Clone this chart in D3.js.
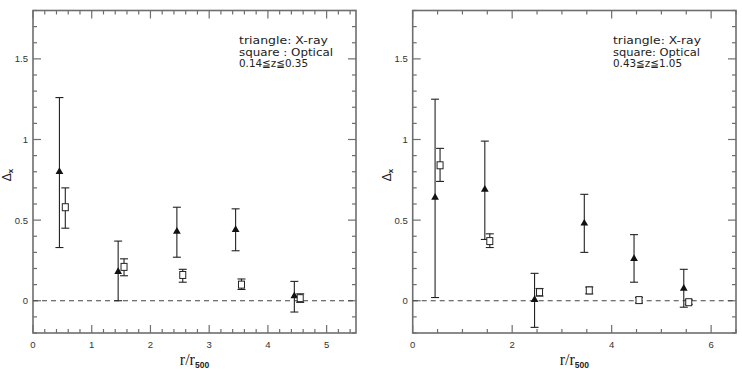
<!DOCTYPE html>
<html>
<head>
<meta charset="utf-8">
<script src="https://cdn.jsdelivr.net/npm/d3@7"></script>
<style>
  body { margin: 0; background: #fff; }
  svg { display: block; }
</style>
</head>
<body>
<script>
var w = 742, h = 369;

// left panel: 0.14 <= z <= 0.35
var xrayLeft = [
  {x: 0.45, y: 0.80, lo: 0.33, hi: 1.26},
  {x: 1.45, y: 0.18, lo: 0.00, hi: 0.37},
  {x: 2.45, y: 0.43, lo: 0.27, hi: 0.58},
  {x: 3.45, y: 0.44, lo: 0.31, hi: 0.57},
  {x: 4.45, y: 0.03, lo: -0.07, hi: 0.12}
];
var optLeft = [
  {x: 0.55, y: 0.58, lo: 0.45, hi: 0.70},
  {x: 1.55, y: 0.21, lo: 0.155, hi: 0.26},
  {x: 2.55, y: 0.16, lo: 0.115, hi: 0.195},
  {x: 3.55, y: 0.10, lo: 0.07, hi: 0.135},
  {x: 4.55, y: 0.016, lo: -0.01, hi: 0.043}
];

// right panel: 0.43 <= z <= 1.05
var xrayRight = [
  {x: 0.45, y: 0.64, lo: 0.02, hi: 1.25},
  {x: 1.45, y: 0.69, lo: 0.38, hi: 0.99},
  {x: 2.45, y: 0.006, lo: -0.165, hi: 0.17},
  {x: 3.45, y: 0.48, lo: 0.30, hi: 0.66},
  {x: 4.45, y: 0.26, lo: 0.115, hi: 0.41},
  {x: 5.45, y: 0.076, lo: -0.04, hi: 0.195}
];
var optRight = [
  {x: 0.55, y: 0.84, lo: 0.74, hi: 0.945},
  {x: 1.55, y: 0.37, lo: 0.33, hi: 0.415},
  {x: 2.55, y: 0.053, lo: 0.029, hi: 0.076},
  {x: 3.55, y: 0.064, lo: 0.043, hi: 0.085},
  {x: 4.55, y: 0.004, lo: -0.014, hi: 0.02},
  {x: 5.55, y: -0.009, lo: -0.022, hi: 0.006}
];

var legendLeft = ["triangle: X-ray", "square : Optical", "0.14\u2266z\u22660.35"];
var legendRight = ["triangle: X-ray", "square: Optical", "0.43\u2266z\u22661.05"];
var legendLeftWidths = [89, 94, 69];
var legendRightWidths = [88, 87, 69];

var yTicks = [0, 0.5, 1, 1.5];

var svg = d3.select("body").append("svg")
  .attr("width", w)
  .attr("height", h);

var frameColor = "#6e6e6e";
var inkColor = "#222";

function panel(opt) {
  var x = d3.scaleLinear().domain(opt.xdom).range([opt.left, opt.right]);
  var y = d3.scaleLinear().domain([-0.2, 1.8]).range([333, 10.5]);

  var g = svg.append("g");

  // minor ticks
  var xMinor = d3.range(opt.xdom[0], opt.xdom[1] + 1e-9, opt.xminor);
  var yMinor = d3.range(-0.2, 1.8 + 1e-9, 0.1);
  function isMajor(v, step) { return Math.abs(v / step - Math.round(v / step)) < 1e-6; }

  xMinor.forEach(function(v) {
    var len = isMajor(v, opt.xmajor) ? 8 : 4;
    g.append("line").attr("x1", x(v)).attr("x2", x(v)).attr("y1", y(-0.2)).attr("y2", y(-0.2) - len)
      .attr("stroke", frameColor).attr("stroke-width", 1.2);
    g.append("line").attr("x1", x(v)).attr("x2", x(v)).attr("y1", y(1.8)).attr("y2", y(1.8) + len)
      .attr("stroke", frameColor).attr("stroke-width", 1.2);
  });
  yMinor.forEach(function(v) {
    var len = isMajor(v, 0.5) ? 8 : 4;
    g.append("line").attr("x1", x(opt.xdom[0])).attr("x2", x(opt.xdom[0]) + len).attr("y1", y(v)).attr("y2", y(v))
      .attr("stroke", frameColor).attr("stroke-width", 1.2);
    g.append("line").attr("x1", x(opt.xdom[1])).attr("x2", x(opt.xdom[1]) - len).attr("y1", y(v)).attr("y2", y(v))
      .attr("stroke", frameColor).attr("stroke-width", 1.2);
  });

  // frame
  g.append("rect")
    .attr("x", x(opt.xdom[0])).attr("y", y(1.8))
    .attr("width", x(opt.xdom[1]) - x(opt.xdom[0]))
    .attr("height", y(-0.2) - y(1.8))
    .attr("fill", "none").attr("stroke", frameColor).attr("stroke-width", 1.6);

  // tick labels
  g.selectAll(".xl").data(opt.xlabels).enter().append("text")
    .attr("x", function(d) { return x(d); })
    .attr("y", 348)
    .attr("text-anchor", "middle")
    .attr("font-family", "Liberation Sans, Arial, sans-serif")
    .attr("font-size", 9.5)
    .attr("fill", "#333")
    .text(function(d) { return d; });
  g.selectAll(".yl").data(yTicks).enter().append("text")
    .attr("x", x(opt.xdom[0]) - 5)
    .attr("y", function(d) { return y(d) + 3.5; })
    .attr("text-anchor", "end")
    .attr("font-family", "Liberation Sans, Arial, sans-serif")
    .attr("font-size", 9.5)
    .attr("fill", "#333")
    .text(function(d) { return d; });

  // axis titles
  var xt = g.append("text")
    .attr("x", (x(opt.xdom[0]) + x(opt.xdom[1])) / 2)
    .attr("y", 365)
    .attr("text-anchor", "middle")
    .attr("font-family", "Liberation Serif, Times New Roman, serif")
    .attr("font-size", 16)
    .attr("fill", "#222");
  xt.append("tspan").text("r/r");
  xt.append("tspan").attr("font-size", 8.5).attr("font-family", "Liberation Sans, Arial, sans-serif")
    .attr("font-weight", "bold").attr("dy", 3).text("500");

  var yt = g.append("text")
    .attr("transform", "translate(" + (x(opt.xdom[0]) - 22) + ",175) rotate(-90)")
    .attr("text-anchor", "middle")
    .attr("font-family", "Liberation Sans, Arial, sans-serif")
    .attr("font-size", 12)
    .attr("fill", "#222");
  yt.append("tspan").text("\u0394");
  yt.append("tspan").attr("font-size", 8).attr("font-weight", "bold").attr("dy", 2).text("x");

  // zero line
  g.append("line")
    .attr("x1", x(opt.xdom[0])).attr("x2", x(opt.xdom[1]))
    .attr("y1", y(0)).attr("y2", y(0))
    .attr("stroke", "#444").attr("stroke-width", 1.1)
    .attr("stroke-dasharray", "5,4");

  // error bars
  function bars(data) {
    var eb = g.append("g").attr("stroke", inkColor).attr("stroke-width", 1.1);
    data.forEach(function(d) {
      eb.append("line").attr("x1", x(d.x)).attr("x2", x(d.x)).attr("y1", y(d.lo)).attr("y2", y(d.hi));
      eb.append("line").attr("x1", x(d.x) - 4).attr("x2", x(d.x) + 4).attr("y1", y(d.lo)).attr("y2", y(d.lo));
      eb.append("line").attr("x1", x(d.x) - 4).attr("x2", x(d.x) + 4).attr("y1", y(d.hi)).attr("y2", y(d.hi));
    });
  }
  bars(opt.xray);
  bars(opt.opt);

  g.selectAll(".tri").data(opt.xray).enter().append("path")
    .attr("d", d3.symbol().type(d3.symbolTriangle).size(26))
    .attr("transform", function(d) { return "translate(" + x(d.x) + "," + y(d.y) + ")"; })
    .attr("fill", "#111");

  g.selectAll(".sq").data(opt.opt).enter().append("rect")
    .attr("x", function(d) { return x(d.x) - 3; })
    .attr("y", function(d) { return y(d.y) - 3.5; })
    .attr("width", 6).attr("height", 7)
    .attr("fill", "#fff").attr("stroke", inkColor).attr("stroke-width", 1);

  // legend text
  g.selectAll(".lg").data(opt.legend).enter().append("text")
    .attr("x", opt.legendX)
    .attr("y", function(d, i) { return 44 + i * 11.6; })
    .attr("font-family", "DejaVu Sans, sans-serif")
    .attr("font-size", 10.5)
    .attr("textLength", function(d, i) { return opt.legendW[i]; })
    .attr("lengthAdjust", "spacingAndGlyphs")
    .attr("fill", "#222")
    .text(function(d) { return d; });
}

panel({
  xdom: [0, 5.5], left: 33, right: 356,
  xminor: 0.2, xmajor: 1, xlabels: [0, 1, 2, 3, 4, 5],
  xray: xrayLeft, opt: optLeft, legend: legendLeft, legendW: legendLeftWidths, legendX: 239
});
panel({
  xdom: [0, 6.5], left: 412.7, right: 736,
  xminor: 0.5, xmajor: 2, xlabels: [0, 2, 4, 6],
  xray: xrayRight, opt: optRight, legend: legendRight, legendW: legendRightWidths, legendX: 613
});
</script>
</body>
</html>
